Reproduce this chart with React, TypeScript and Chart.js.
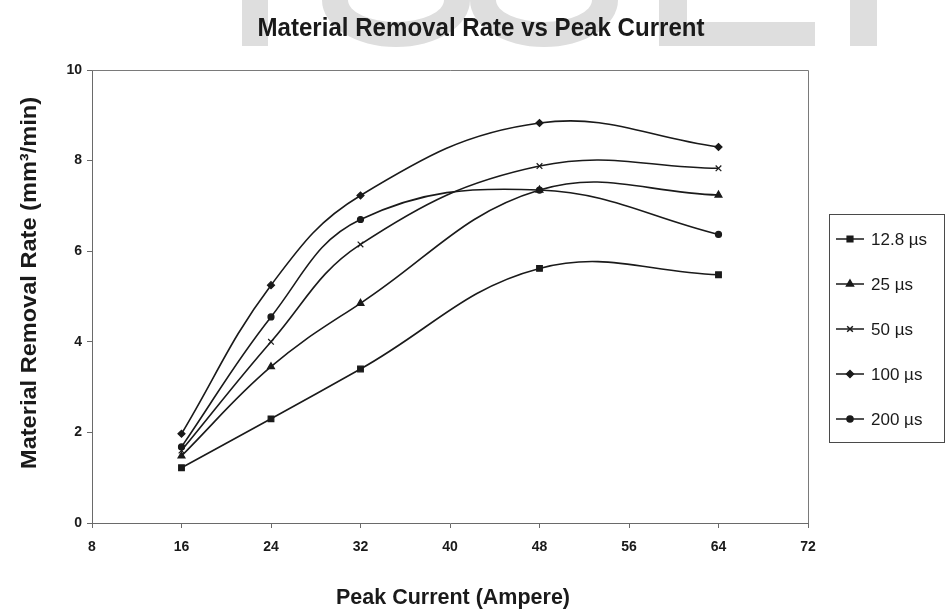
import React, { useEffect, useRef } from "react";
import { Chart, registerables } from "chart.js";
import { drawPoint } from "chart.js/helpers";

Chart.register(...registerables);

const chartTitle = "Material Removal Rate vs Peak Current";
const xAxisTitle = "Peak Current (Ampere)";
const yAxisTitle = "Material Removal Rate (mm\u00B3/min)";

const peakCurrent = [16, 24, 32, 48, 64];
const seriesLabels = ["12.8 \u00B5s", "25 \u00B5s", "50 \u00B5s", "100 \u00B5s", "200 \u00B5s"];
const mrr12_8 = [1.22, 2.3, 3.4, 5.62, 5.48];
const mrr25 = [1.48, 3.45, 4.85, 7.35, 7.24];
const mrr50 = [1.6, 4.0, 6.15, 7.88, 7.83];
const mrr100 = [1.97, 5.25, 7.23, 8.83, 8.3];
const mrr200 = [1.68, 4.55, 6.7, 7.35, 6.37];
const seriesValues = [mrr12_8, mrr25, mrr50, mrr100, mrr200];
const seriesMarkers = ["rect", "triangle", "crossRot", "rectRot", "circle"];
const seriesMarkerSizes = [4, 4, 4, 3.5, 3];

const xMin = 8;
const xMax = 72;
const xStep = 8;
const yMin = 0;
const yMax = 10;
const yStep = 2;

const SANS = '"Liberation Sans", Arial, sans-serif';
const INK = "#1a1a1a";

// draws text horizontally squeezed to a target width (narrow face look)
function fitText(ctx: any, text: string, x: number, y: number, font: string, width: number) {
  ctx.font = font;
  const w = ctx.measureText(text).width;
  const s = width / w;
  ctx.save();
  ctx.translate(x, y);
  ctx.scale(s, 1);
  ctx.textAlign = "center";
  ctx.textBaseline = "middle";
  ctx.fillText(text, 0, 0);
  ctx.restore();
}

const decorPlugin = {
  id: "decor",
  beforeDraw(chart: any) {
    const ctx = chart.ctx;
    ctx.save();
    ctx.fillStyle = "#ffffff";
    ctx.fillRect(0, 0, chart.width, chart.height);
    // faint watermark letters behind title
    ctx.fillStyle = "#dedede";
    ctx.fillRect(242, 0, 26, 46);
    const ring = (cx: number, rx: number) => {
      ctx.beginPath();
      ctx.ellipse(cx, 0, rx, 47, 0, 0, Math.PI, false);
      ctx.ellipse(cx, 0, rx - 26, 22, 0, Math.PI, 0, true);
      ctx.closePath();
      ctx.fill();
    };
    ring(396, 74);
    ring(544, 74);
    ctx.fillRect(659, 22, 156, 24);
    ctx.fillRect(659, 0, 28, 46);
    ctx.fillRect(850, 0, 27, 46);
    ctx.restore();
  },
  beforeDatasetsDraw(chart: any) {
    const { ctx, chartArea } = chart;
    ctx.save();
    ctx.strokeStyle = "#7a7a7a";
    ctx.lineWidth = 1;
    ctx.beginPath();
    ctx.moveTo(chartArea.left, chartArea.top + 0.5);
    ctx.lineTo(chartArea.right + 0.5, chartArea.top + 0.5);
    ctx.lineTo(chartArea.right + 0.5, chartArea.bottom);
    ctx.stroke();
    ctx.restore();
  },
  afterDraw(chart: any) {
    const ctx = chart.ctx;
    ctx.save();
    ctx.fillStyle = INK;
    // chart title
    fitText(ctx, chartTitle, 481, 29, `bold 25px ${SANS}`, 447);
    // x axis title
    fitText(ctx, xAxisTitle, 453, 598, `bold 22px ${SANS}`, 234);
    // y axis title (rotated)
    ctx.save();
    ctx.translate(30, 283);
    ctx.rotate(-Math.PI / 2);
    fitText(ctx, yAxisTitle, 0, 0, `bold 22px ${SANS}`, 372);
    ctx.restore();
    // legend box
    const bx = 829.5, by = 214.5, bw = 115, bh = 228;
    ctx.strokeStyle = "#4a4a4a";
    ctx.lineWidth = 1;
    ctx.strokeRect(bx, by, bw, bh);
    chart.data.datasets.forEach((ds: any, i: number) => {
      const y = 239 + i * 45;
      ctx.strokeStyle = ds.borderColor;
      ctx.lineWidth = 1.5;
      ctx.beginPath();
      ctx.moveTo(836, y);
      ctx.lineTo(864, y);
      ctx.stroke();
      ctx.fillStyle = ds.pointBackgroundColor;
      ctx.strokeStyle = ds.pointBorderColor;
      drawPoint(ctx, { pointStyle: ds.pointStyle, radius: ds.pointRadius, rotation: 0, borderWidth: 1.2 }, 850, y);
      ctx.fillStyle = INK;
      ctx.font = `17px ${SANS}`;
      ctx.textAlign = "left";
      ctx.textBaseline = "middle";
      ctx.fillText(ds.label, 871, y + 1);
    });
    ctx.restore();
  },
};

export default function App() {
  const canvasRef = useRef<HTMLCanvasElement | null>(null);

  useEffect(() => {
    const canvas = canvasRef.current;
    if (!canvas) return;
    const chart = new Chart(canvas, {
      type: "line",
      data: {
        datasets: seriesLabels.map((label, i) => ({
          label,
          data: peakCurrent.map((x, j) => ({ x, y: seriesValues[i][j] })),
          borderColor: INK,
          backgroundColor: INK,
          pointBackgroundColor: INK,
          pointBorderColor: INK,
          pointStyle: seriesMarkers[i] as any,
          pointRadius: seriesMarkerSizes[i],
          pointBorderWidth: 1.2,
          borderWidth: 1.6,
          tension: 0.4,
          fill: false,
        })),
      },
      options: {
        animation: false,
        responsive: false,
        maintainAspectRatio: false,
        layout: { padding: { left: 0, right: 141, top: 70, bottom: 0 } },
        plugins: {
          legend: { display: false },
          title: { display: false },
          tooltip: { enabled: false },
        },
        scales: {
          x: {
            type: "linear",
            min: xMin,
            max: xMax,
            afterFit: (scale: any) => {
              scale.height = 92;
            },
            afterBuildTicks: (scale: any) => {
              const t = [];
              for (let v = xMin; v <= xMax; v += xStep) t.push({ value: v });
              scale.ticks = t;
            },
            grid: { display: true, drawOnChartArea: false, drawTicks: true, tickLength: 5, color: "#6a6a6a" },
            border: { display: true, color: "#6a6a6a", width: 1 },
            ticks: {
              color: INK,
              font: { family: SANS, size: 14, weight: "bold" },
              padding: 11,
              maxRotation: 0,
            },
            title: { display: false },
          },
          y: {
            type: "linear",
            min: yMin,
            max: yMax,
            afterFit: (scale: any) => {
              scale.width = 92;
            },
            afterBuildTicks: (scale: any) => {
              const t = [];
              for (let v = yMin; v <= yMax; v += yStep) t.push({ value: v });
              scale.ticks = t;
            },
            grid: { display: true, drawOnChartArea: false, drawTicks: true, tickLength: 5, color: "#6a6a6a" },
            border: { display: true, color: "#6a6a6a", width: 1 },
            ticks: {
              color: INK,
              font: { family: SANS, size: 14, weight: "bold" },
              padding: 5,
            },
            title: { display: false },
          },
        },
      },
      plugins: [decorPlugin],
    });
    return () => chart.destroy();
  }, []);

  return (
    <div style={{ position: "fixed", left: 0, top: 0, width: 949, height: 615, background: "#fff" }}>
      <canvas ref={canvasRef} width={949} height={615} style={{ display: "block", width: 949, height: 615 }} />
    </div>
  );
}
